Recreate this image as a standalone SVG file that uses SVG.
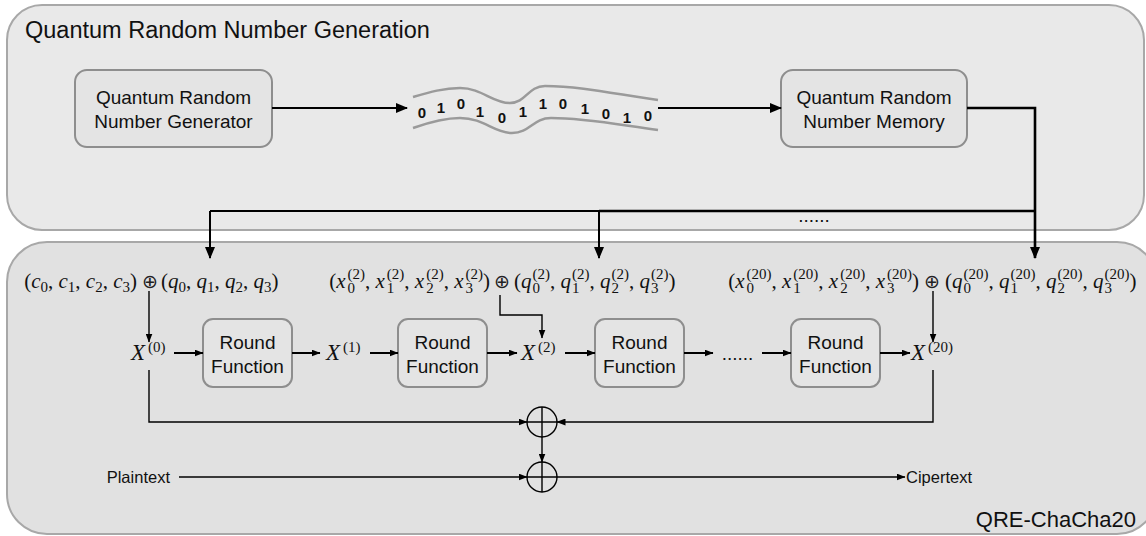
<svg xmlns="http://www.w3.org/2000/svg" width="1146" height="536" viewBox="0 0 1146 536">
  <defs>
    <marker id="ah-lg" markerUnits="userSpaceOnUse" markerWidth="12" markerHeight="10" refX="11" refY="5" orient="auto">
      <path d="M0,0 L12,5 L0,10 Z" fill="#000"/>
    </marker>
    <marker id="ah-sm" markerUnits="userSpaceOnUse" markerWidth="9" markerHeight="7" refX="8.5" refY="3.5" orient="auto">
      <path d="M0,0 L9,3.5 L0,7 Z" fill="#000"/>
    </marker>
    <style>
      .panel-top { fill: #e9e9e9; stroke: #a8a8a8; stroke-width: 2; }
      .panel-bot { fill: #e1e1e1; stroke: #a8a8a8; stroke-width: 2; }
      .box { fill: #e4e4e4; stroke: #8e8e8e; stroke-width: 2; }
      .sans { font-family: "Liberation Sans", Arial, sans-serif; fill: #111; }
      .lbl { font-size: 19px; text-anchor: middle; }
      .bits { font-family: "Liberation Sans", Arial, sans-serif; font-weight: bold; font-size: 15px; text-anchor: middle; fill: #111; }
      .m { font-family: "Liberation Serif", "Times New Roman", serif; font-size: 21px; fill: #111; }
      .i { font-style: italic; }
      .s { font-size: 15px; }
      .op { font-family: "DejaVu Sans", sans-serif; font-size: 19px; text-anchor: middle; fill: #222; }
      .band { fill: none; stroke: #9a9a9a; stroke-width: 2.5; }
      .w2 { fill: none; stroke: #000; stroke-width: 2; }
      .w3 { fill: none; stroke: #000; stroke-width: 2.6; }
      .w1 { fill: none; stroke: #000; stroke-width: 1.4; }
    </style>
  </defs>

  <!-- panels -->
  <g id="qrng-panel">
    <rect class="panel-top" x="7" y="5" width="1137" height="225" rx="35"/>
    <text class="sans" x="25" y="38" font-size="23.5">Quantum Random Number Generation</text>
  </g>
  <g id="chacha-panel">
    <rect class="panel-bot" x="7" y="242" width="1150" height="292" rx="40"/>
    <text class="sans" x="1136" y="527" font-size="22" text-anchor="end">QRE-ChaCha20</text>
  </g>

  <!-- random source nodes -->
  <g id="generator">
    <rect class="box" x="75" y="70" width="197" height="77" rx="12"/>
    <text class="sans lbl" x="173.5" y="104">Quantum Random</text>
    <text class="sans lbl" x="173.5" y="128">Number Generator</text>
  </g>
  <g id="bitstream">
    <path class="band" d="M413,97 C430,92 444,88 460,88 C482,88 492,103 510,103 C526,103 528,86 545,86 C582,86 620,95 658,100"/>
    <path class="band" d="M413,128 C430,122 444,118 460,118 C484,118 494,133 512,133 C530,133 533,118 551,118 C586,118 620,125 658,130"/>
    <text class="bits" x="422" y="118">0</text>
    <text class="bits" x="441" y="113">1</text>
    <text class="bits" x="461" y="109">0</text>
    <text class="bits" x="480" y="117">1</text>
    <text class="bits" x="502" y="123">0</text>
    <text class="bits" x="523" y="117">1</text>
    <text class="bits" x="543" y="109">1</text>
    <text class="bits" x="563" y="109">0</text>
    <text class="bits" x="585" y="114">1</text>
    <text class="bits" x="606" y="119">0</text>
    <text class="bits" x="627" y="123">1</text>
    <text class="bits" x="648" y="121">0</text>
  </g>
  <g id="memory">
    <rect class="box" x="781" y="70" width="186" height="77" rx="12"/>
    <text class="sans lbl" x="874" y="104">Quantum Random</text>
    <text class="sans lbl" x="874" y="128">Number Memory</text>
  </g>
  <g id="dist-dots">
    <text class="sans lbl" x="814" y="222">......</text>
  </g>

  <!-- key inputs -->
  <g id="input-0">
    <text class="m" x="137" y="288" text-anchor="end">(<tspan class="i">c</tspan><tspan class="s" dy="4">0</tspan><tspan dy="-4">, </tspan><tspan class="i">c</tspan><tspan class="s" dy="4">1</tspan><tspan dy="-4">, </tspan><tspan class="i">c</tspan><tspan class="s" dy="4">2</tspan><tspan dy="-4">, </tspan><tspan class="i">c</tspan><tspan class="s" dy="4">3</tspan><tspan dy="-4">)</tspan></text>
    <text class="op" x="150" y="288">⊕</text>
    <text class="m" x="161" y="288">(<tspan class="i">q</tspan><tspan class="s" dy="4">0</tspan><tspan dy="-4">, </tspan><tspan class="i">q</tspan><tspan class="s" dy="4">1</tspan><tspan dy="-4">, </tspan><tspan class="i">q</tspan><tspan class="s" dy="4">2</tspan><tspan dy="-4">, </tspan><tspan class="i">q</tspan><tspan class="s" dy="4">3</tspan><tspan dy="-4">)</tspan></text>
  </g>
  <g id="input-2">
    <text class="m" x="490" y="288" text-anchor="end">(<tspan class="i">x</tspan><tspan class="s" dy="-9" dx="2">(2)</tspan><tspan class="s" dx="-17.5" dy="14">0</tspan><tspan dx="10" dy="-5">, </tspan><tspan class="i">x</tspan><tspan class="s" dy="-9" dx="2">(2)</tspan><tspan class="s" dx="-17.5" dy="14">1</tspan><tspan dx="10" dy="-5">, </tspan><tspan class="i">x</tspan><tspan class="s" dy="-9" dx="2">(2)</tspan><tspan class="s" dx="-17.5" dy="14">2</tspan><tspan dx="10" dy="-5">, </tspan><tspan class="i">x</tspan><tspan class="s" dy="-9" dx="2">(2)</tspan><tspan class="s" dx="-17.5" dy="14">3</tspan><tspan dx="10" dy="-5">)</tspan></text>
    <text class="op" x="502" y="288">⊕</text>
    <text class="m" x="514" y="288">(<tspan class="i">q</tspan><tspan class="s" dy="-9" dx="1">(2)</tspan><tspan class="s" dx="-17.5" dy="14">0</tspan><tspan dx="10" dy="-5">, </tspan><tspan class="i">q</tspan><tspan class="s" dy="-9" dx="1">(2)</tspan><tspan class="s" dx="-17.5" dy="14">1</tspan><tspan dx="10" dy="-5">, </tspan><tspan class="i">q</tspan><tspan class="s" dy="-9" dx="1">(2)</tspan><tspan class="s" dx="-17.5" dy="14">2</tspan><tspan dx="10" dy="-5">, </tspan><tspan class="i">q</tspan><tspan class="s" dy="-9" dx="1">(2)</tspan><tspan class="s" dx="-17.5" dy="14">3</tspan><tspan dx="10" dy="-5">)</tspan></text>
  </g>
  <g id="input-20">
    <text class="m" x="919" y="288" text-anchor="end">(<tspan class="i">x</tspan><tspan class="s" dy="-9" dx="2">(20)</tspan><tspan class="s" dx="-25" dy="14">0</tspan><tspan dx="17.5" dy="-5">, </tspan><tspan class="i">x</tspan><tspan class="s" dy="-9" dx="2">(20)</tspan><tspan class="s" dx="-25" dy="14">1</tspan><tspan dx="17.5" dy="-5">, </tspan><tspan class="i">x</tspan><tspan class="s" dy="-9" dx="2">(20)</tspan><tspan class="s" dx="-25" dy="14">2</tspan><tspan dx="17.5" dy="-5">, </tspan><tspan class="i">x</tspan><tspan class="s" dy="-9" dx="2">(20)</tspan><tspan class="s" dx="-25" dy="14">3</tspan><tspan dx="17.5" dy="-5">)</tspan></text>
    <text class="op" x="932" y="288">⊕</text>
    <text class="m" x="945" y="288">(<tspan class="i">q</tspan><tspan class="s" dy="-9" dx="1">(20)</tspan><tspan class="s" dx="-25" dy="14">0</tspan><tspan dx="17.5" dy="-5">, </tspan><tspan class="i">q</tspan><tspan class="s" dy="-9" dx="1">(20)</tspan><tspan class="s" dx="-25" dy="14">1</tspan><tspan dx="17.5" dy="-5">, </tspan><tspan class="i">q</tspan><tspan class="s" dy="-9" dx="1">(20)</tspan><tspan class="s" dx="-25" dy="14">2</tspan><tspan dx="17.5" dy="-5">, </tspan><tspan class="i">q</tspan><tspan class="s" dy="-9" dx="1">(20)</tspan><tspan class="s" dx="-25" dy="14">3</tspan><tspan dx="17.5" dy="-5">)</tspan></text>
  </g>

  <!-- state values -->
  <g id="state-0"><text class="m" x="131" y="360"><tspan class="i" font-size="23">X</tspan><tspan class="s" dx="3" dy="-8">(0)</tspan></text></g>
  <g id="state-1"><text class="m" x="326" y="360"><tspan class="i" font-size="23">X</tspan><tspan class="s" dx="3" dy="-8">(1)</tspan></text></g>
  <g id="state-2"><text class="m" x="521" y="360"><tspan class="i" font-size="23">X</tspan><tspan class="s" dx="3" dy="-8">(2)</tspan></text></g>
  <g id="state-20"><text class="m" x="911" y="360"><tspan class="i" font-size="23">X</tspan><tspan class="s" dx="3" dy="-8">(20)</tspan></text></g>

  <!-- round functions -->
  <g id="round-1">
    <rect class="box" x="203" y="319" width="89" height="68" rx="10"/>
    <text class="sans lbl" x="247.5" y="349">Round</text>
    <text class="sans lbl" x="247.5" y="373">Function</text>
  </g>
  <g id="round-2">
    <rect class="box" x="398" y="319" width="89" height="68" rx="10"/>
    <text class="sans lbl" x="442.5" y="349">Round</text>
    <text class="sans lbl" x="442.5" y="373">Function</text>
  </g>
  <g id="round-3">
    <rect class="box" x="595" y="319" width="89" height="68" rx="10"/>
    <text class="sans lbl" x="639.5" y="349">Round</text>
    <text class="sans lbl" x="639.5" y="373">Function</text>
  </g>
  <g id="round-20">
    <rect class="box" x="791" y="319" width="89" height="68" rx="10"/>
    <text class="sans lbl" x="835.5" y="349">Round</text>
    <text class="sans lbl" x="835.5" y="373">Function</text>
  </g>
  <g id="round-dots"><text class="sans lbl" x="737.5" y="360">......</text></g>

  <!-- xor nodes -->
  <g id="xor-feed">
    <circle cx="542" cy="422" r="15" fill="none" stroke="#000" stroke-width="1.4"/>
    <path d="M527,422 H557 M542,407 V437" stroke="#000" stroke-width="1.4"/>
  </g>
  <g id="xor-out">
    <circle cx="542" cy="477" r="15" fill="none" stroke="#000" stroke-width="1.4"/>
    <path d="M527,477 H557 M542,462 V492" stroke="#000" stroke-width="1.4"/>
  </g>

  <g id="plaintext"><text class="sans" x="170" y="483" font-size="16.5" text-anchor="end">Plaintext</text></g>
  <g id="ciphertext"><text class="sans" x="906" y="483" font-size="16.5">Cipertext</text></g>

  <!-- connectors -->
  <g id="connectors">
    <path class="w2" d="M272,108 H407" marker-end="url(#ah-lg)"/>
    <path class="w2" d="M658,108 H781" marker-end="url(#ah-lg)"/>
    <path class="w3" d="M967,108 H1035 V258" marker-end="url(#ah-lg)"/>
    <path class="w3" d="M1035,211 H599"/>
    <path class="w2" d="M599,211 H210"/>
    <path class="w2" d="M210,211 V258" marker-end="url(#ah-lg)"/>
    <path class="w2" d="M599,211 V258" marker-end="url(#ah-lg)"/>

    <path class="w1" d="M149,291 V342" marker-end="url(#ah-sm)"/>
    <path class="w1" d="M500,295 V315 H542 V338" marker-end="url(#ah-sm)"/>
    <path class="w1" d="M933,291 V342" marker-end="url(#ah-sm)"/>

    <path class="w2" d="M174,353 H203" marker-end="url(#ah-sm)"/>
    <path class="w2" d="M292,353 H320" marker-end="url(#ah-sm)"/>
    <path class="w2" d="M370,353 H398" marker-end="url(#ah-sm)"/>
    <path class="w2" d="M487,353 H517" marker-end="url(#ah-sm)"/>
    <path class="w2" d="M565,353 H595" marker-end="url(#ah-sm)"/>
    <path class="w2" d="M684,353 H713" marker-end="url(#ah-sm)"/>
    <path class="w2" d="M762,353 H791" marker-end="url(#ah-sm)"/>
    <path class="w2" d="M880,353 H910" marker-end="url(#ah-sm)"/>

    <path class="w1" d="M149,370 V422 H527" marker-end="url(#ah-sm)"/>
    <path class="w1" d="M933,370 V422 H557" marker-end="url(#ah-sm)"/>
    <path class="w1" d="M542,437 V462" marker-end="url(#ah-sm)"/>
    <path class="w1" d="M179,477 H527" marker-end="url(#ah-sm)"/>
    <path class="w1" d="M557,477 H905" marker-end="url(#ah-sm)"/>
  </g>
</svg>
